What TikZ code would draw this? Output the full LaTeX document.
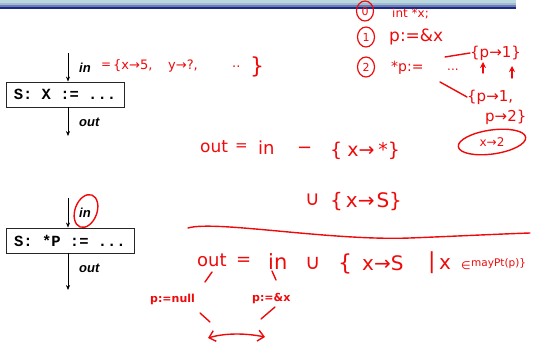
\documentclass[tikz,border=0pt]{standalone}
\usepackage{fontspec}
\setmainfont{Liberation Sans}
\newfontfamily\hand{DejaVu Sans}
\newfontfamily\codefont{Liberation Mono}
\usetikzlibrary{arrows.meta,shapes.geometric}

\definecolor{inkRed}{RGB}{238,10,10}
\definecolor{barA}{HTML}{B9D9DF}
\definecolor{barB}{HTML}{A4BACF}
\definecolor{barC}{HTML}{6C7EB8}
\definecolor{barD}{HTML}{1E2A88}

\begin{document}
\begin{tikzpicture}[x=1pt, y=-1pt,
    stmt/.style={draw=black!85, fill=white, line width=0.9pt, inner sep=0pt,
      minimum height=25pt, font=\codefont\bfseries\fontsize{15.5}{16}\selectfont},
    flowlbl/.style={anchor=west, inner sep=0pt, font=\bfseries\itshape\fontsize{13}{14}\selectfont},
    flow/.style={-{Stealth[length=5pt,width=4pt]}, line width=0.6pt},
    ink/.style={anchor=west, inner sep=0pt, text=inkRed},
    pen/.style={draw=inkRed, line width=1.4pt, line cap=round},
    numring/.style={ellipse, draw=inkRed, line width=1.2pt, text=inkRed, inner sep=1pt,
      minimum width=17pt, minimum height=20pt, font=\hand\fontsize{11}{11}\selectfont}]

    \useasboundingbox (0,0) rectangle (538,358);

    % Title bar
    \fill[barA] (0,0) rectangle (516,3);
    \fill[barB] (0,3) rectangle (516,5);
    \fill[barC] (0,5) rectangle (516,7);
    \fill[barD] (0,7) rectangle (516,9);

    % Statement X := ...
    \node[stmt, minimum width=118pt] (s1) at (65,94.5) {S: X := ...};
    \coordinate (i1) at (68,53);
    \coordinate (o1) at (68,136);
    \draw[flow] (i1) -- (i1 |- s1.north);
    \draw[flow] (o1 |- s1.south) -- (o1);
    \node[flowlbl] (in1) at (79,68) {in};
    \node[flowlbl] (out1) at (79,122) {out};

    % Statement *P := ...
    \node[stmt, minimum width=128pt] (s2) at (70,240.5) {S: *P := ...};
    \coordinate (i2) at (68,198);
    \coordinate (o2) at (68,290);
    \draw[flow] (i2) -- (i2 |- s2.north);
    \draw[flow] (o2 |- s2.south) -- (o2);
    \node[flowlbl] (in2) at (79,213) {in};
    \node[flowlbl] (out2) at (79,268) {out};
    \draw[pen, rotate around={-20:(86,211)}] (86,211) ellipse [x radius=11, y radius=17];

    % Handwritten notes: the in-set
    \node[ink, font=\hand\fontsize{12}{12}\selectfont] (ineq) at (101,66) {=};
    \node[ink, font=\hand\fontsize{13}{13}\selectfont] (inx) at (113,66) {\{x→5,};
    \node[ink, font=\hand\fontsize{13}{13}\selectfont] (iny) at (168,66) {y→?,};
    \node[ink, font=\hand\fontsize{13}{13}\selectfont] (indots) at (232,67) {..};
    \node[ink, font=\hand\fontsize{22}{22}\selectfont] (inend) at (250,67) {\}};

    % Handwritten notes: the numbered program
    \node[numring] (n0) at (365,11) {0};
    \node[numring] (n1) at (366,37) {1};
    \node[numring] (n2) at (366,67) {2};
    \node[ink, font=\hand\fontsize{12}{12}\selectfont] (decl) at (392,14) {int *x;};
    \node[ink, font=\hand\fontsize{17}{17}\selectfont] (asg1) at (389,37) {p:=\&x};
    \node[ink, font=\hand\fontsize{14}{14}\selectfont] (asg2) at (391,68) {*p:=};
    \node[ink, font=\hand\fontsize{12}{12}\selectfont] (dots) at (447,70) {...};
    \node[ink, font=\hand\fontsize{15}{15}\selectfont] (pt1) at (470,53) {\{p→1\}};
    \node[ink, font=\hand\fontsize{15}{15}\selectfont] (pt2) at (467,97) {\{p→1,};
    \node[ink, font=\hand\fontsize{15}{15}\selectfont] (pt3) at (485,117) {p→2\}};
    \node[ink, anchor=center, font=\hand\fontsize{12}{12}\selectfont] (x2) at (492,142) {x→2};
    \draw[pen, rotate around={8:(x2.center)}] (x2.center) ellipse [x radius=34, y radius=12];

    \coordinate (d1) at (445,57);
    \coordinate (d2) at (440,82);
    \draw[pen] (d1) -- (pt1.west);
    \draw[pen] (d2) -- (pt2.west);
    \coordinate (u1) at (483,73);
    \coordinate (u2) at (512,78);
    \draw[pen, -{Stealth[length=6pt,width=6pt]}] (u1) -- ++(0,-11);
    \draw[pen, -{Stealth[length=6pt,width=6pt]}] (u2) -- ++(0,-12);

    % Equations
    \node[ink, font=\hand\fontsize{17}{17}\selectfont] (kout) at (200,147) {out};
    \node[ink, font=\hand\fontsize{15}{15}\selectfont] (keq) at (235,147) {=};
    \node[ink, font=\hand\fontsize{18}{18}\selectfont] (kin) at (258,148) {in};
    \node[ink, font=\hand\fontsize{18}{18}\selectfont] (kminus) at (297,150) {−};
    \node[ink, font=\hand\fontsize{19}{19}\selectfont] (kset) at (330,151) {\{\hspace{5pt}x→\hspace{4pt}*\}};

    \node[ink, font=\hand\fontsize{20}{20}\selectfont] (gcup) at (305,200) {∪};
    \node[ink, font=\hand\fontsize{20}{20}\selectfont] (gset) at (330,202) {\{\hspace{3pt}x→\hspace{2pt}S\}};

    \coordinate (rs) at (188,228);
    \coordinate (re) at (530,233);
    \draw[pen] (rs) .. controls (215,220) and (330,241) .. (410,238)
      .. controls (460,236) and (500,234) .. (re);

    \node[ink, font=\hand\fontsize{18}{18}\selectfont] (rout) at (197,260) {out};
    \node[ink, font=\hand\fontsize{18}{18}\selectfont] (req) at (236,261) {=};
    \node[ink, font=\hand\fontsize{21}{21}\selectfont] (rin) at (268,262) {in};
    \node[ink, font=\hand\fontsize{21}{21}\selectfont] (rcup) at (305,263) {∪};
    \node[ink, font=\hand\fontsize{22}{22}\selectfont] (rbrace) at (338,264) {\{};
    \node[ink, font=\hand\fontsize{20}{20}\selectfont] (rmap) at (362,263) {x→S};
    \node[ink, font=\hand\fontsize{22}{22}\selectfont] (rbar) at (428,263) {|};
    \node[ink, font=\hand\fontsize{20}{20}\selectfont] (rx) at (439,264) {x};
    \node[ink, font=\hand\fontsize{11}{11}\selectfont] (relem) at (461,266) {∈};
    \node[ink, font=\hand\fontsize{10.5}{11}\selectfont] (rmay) at (471,264) {mayPt(p)\}};

    \node[ink, font=\hand\bfseries\fontsize{11}{11}\selectfont] (pnull) at (150,299) {p:=null};
    \node[ink, font=\hand\bfseries\fontsize{11}{11}\selectfont] (paddr) at (252,299) {p:=\&x};

    \coordinate (t1) at (212,272);
    \coordinate (t2) at (272,271);
    \draw[pen] (t1) -- ++(-7,10);
    \draw[pen] (t2) -- ++(4,9);
    \coordinate (l1) at (200,313);
    \coordinate (l2) at (275,307);
    \draw[pen] (l1) -- ++(10,9);
    \draw[pen] (l2) -- ++(-14,12);

    \coordinate (a1) at (208,338);
    \coordinate (a2) at (265,337);
    \draw[pen, {Straight Barb[length=6pt,width=11pt]}-{Straight Barb[length=6pt,width=11pt]}]
      (a1) .. controls (225,333) and (245,333) .. (a2);
\end{tikzpicture}
\end{document}
